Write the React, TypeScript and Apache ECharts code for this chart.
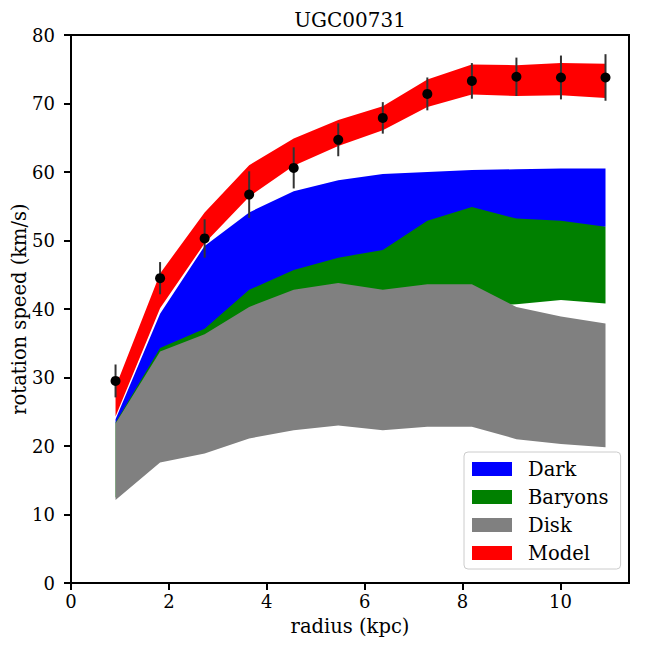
import React, { useEffect, useRef } from 'react';
import * as echarts from 'echarts';

// radius (kpc)
const X = [0.91, 1.82, 2.73, 3.64, 4.55, 5.46, 6.37, 7.28, 8.19, 9.10, 10.01, 10.92];
// observed rotation speed and error (km/s)
const V_OBS = [29.5, 44.5, 50.3, 56.7, 60.6, 64.7, 67.9, 71.4, 73.3, 73.9, 73.8, 73.8];
const V_ERR = [2.4, 2.35, 2.8, 3.4, 3.0, 2.4, 2.3, 2.4, 2.6, 2.8, 3.2, 3.4];
// bands
const DARK_HI = [23.9, 39.3, 49.2, 54.1, 57.2, 58.8, 59.7, 60.0, 60.3, 60.4, 60.5, 60.5];
const DARK_LO = [23.3, 33.5, 36.0, 41.0, 44.0, 46.0, 47.8, 49.4, 50.6, 51.2, 51.7, 52.0];
const BARY_HI = [23.4, 34.3, 37.1, 42.8, 45.7, 47.5, 48.6, 52.9, 54.9, 53.2, 52.9, 52.0];
const BARY_LO = [12.5, 17.9, 19.2, 25.3, 27.7, 29.6, 31.4, 37.9, 40.3, 40.7, 41.3, 40.8];
const DISK_HI = [23.3, 33.8, 36.3, 40.3, 42.8, 43.8, 42.8, 43.6, 43.6, 40.3, 38.9, 37.9];
const DISK_LO = [12.1, 17.6, 18.9, 21.1, 22.3, 23.0, 22.3, 22.8, 22.8, 21.0, 20.3, 19.8];
const MODEL_HI = [28.6, 45.2, 54.1, 61.0, 64.9, 67.6, 69.6, 73.5, 75.7, 75.6, 75.9, 75.8];
const MODEL_LO = [24.3, 40.1, 49.6, 56.4, 60.9, 63.8, 66.1, 69.5, 71.3, 71.1, 71.2, 70.8];

const X_TICKS = [0, 2, 4, 6, 8, 10];
const Y_TICKS = [0, 10, 20, 30, 40, 50, 60, 70, 80];
const LEGEND = ['Dark', 'Baryons', 'Disk', 'Model'];
const TITLE = 'UGC00731';

const FONT = 'DejaVu Serif';

function band(name: string, color: string, lo: number[], hi: number[], z: number) {
  const data = X.map((x, i) => [x, lo[i], hi[i]]);
  return {
    type: 'custom',
    name,
    z,
    itemStyle: { color },
    data,
    encode: { x: 0, y: [1, 2] },
    renderItem: (params: any, api: any) => {
      if (params.dataIndex !== 0) return null;
      const top = data.map((d) => api.coord([d[0], d[2]]));
      const bot = data.map((d) => api.coord([d[0], d[1]])).reverse();
      return {
        type: 'polygon',
        shape: { points: top.concat(bot) },
        style: { fill: color },
      };
    },
  };
}

export default function App() {
  const ref = useRef<HTMLDivElement>(null);
  useEffect(() => {
    const chart = echarts.init(ref.current!, null, { renderer: 'svg' });
    const errData = X.map((x, i) => [x, V_OBS[i], V_ERR[i]]);
    const option: any = {
      animation: false,
      backgroundColor: '#fff',
      title: {
        text: TITLE,
        left: 350,
        textAlign: 'center',
        top: 10,
        padding: 0,
        textStyle: { fontFamily: FONT, fontSize: 20, fontWeight: 'normal', color: '#000' },
      },
      grid: {
        left: 71,
        right: 19,
        top: 35,
        bottom: 65,
        outerBoundsMode: 'none',
        containLabel: false,
        show: true,
        borderColor: '#000',
        borderWidth: 2,
        backgroundColor: 'transparent',
      },
      legend: {
        data: LEGEND,
        orient: 'vertical',
        left: 464,
        top: 452,
        icon: 'rect',
        itemWidth: 40,
        itemHeight: 14,
        itemGap: 8,
        padding: [7, 12, 6, 8],
        backgroundColor: 'rgba(255,255,255,0.8)',
        borderColor: '#cccccc',
        borderWidth: 1,
        borderRadius: 4,
        textStyle: {
          fontFamily: FONT,
          fontSize: 19.5,
          color: '#000',
          padding: [0, 0, 0, 11],
        },
      },
      xAxis: {
        type: 'value',
        min: 0,
        max: 11.4,
        name: 'radius (kpc)',
        nameLocation: 'middle',
        nameGap: 33,
        nameMoveOverlap: false,
        nameTextStyle: { fontFamily: FONT, fontSize: 19.5, color: '#000' },
        axisLine: { onZero: false, lineStyle: { color: '#000', width: 2 } },
        axisTick: { customValues: X_TICKS, length: 7, lineStyle: { color: '#000', width: 2 } },
        axisLabel: { customValues: X_TICKS, fontFamily: FONT, fontSize: 18, color: '#000', margin: 9 },
        splitLine: { show: false },
      },
      yAxis: {
        type: 'value',
        min: 0,
        max: 80,
        interval: 10,
        name: 'rotation speed (km/s)',
        nameLocation: 'middle',
        nameGap: 42,
        nameMoveOverlap: false,
        nameTextStyle: { fontFamily: FONT, fontSize: 19.5, color: '#000' },
        axisLine: { onZero: false, lineStyle: { color: '#000', width: 2 } },
        axisTick: { customValues: Y_TICKS, length: 7, lineStyle: { color: '#000', width: 2 } },
        axisLabel: { customValues: Y_TICKS, fontFamily: FONT, fontSize: 18, color: '#000', margin: 16 },
        splitLine: { show: false },
      },
      series: [
        band('Dark', '#0000ff', DARK_LO, DARK_HI, 1),
        band('Baryons', '#008000', BARY_LO, BARY_HI, 2),
        band('Disk', '#808080', DISK_LO, DISK_HI, 3),
        band('Model', '#ff0000', MODEL_LO, MODEL_HI, 4),
        {
          type: 'custom',
          name: 'errors',
          z: 5,
          data: errData,
          encode: { x: 0, y: 1 },
          renderItem: (params: any, api: any) => {
            const x = api.value(0);
            const v = api.value(1);
            const e = api.value(2);
            const p1 = api.coord([x, v - e]);
            const p2 = api.coord([x, v + e]);
            return {
              type: 'line',
              shape: { x1: p1[0], y1: p1[1], x2: p2[0], y2: p2[1] },
              style: { stroke: '#333333', lineWidth: 2 },
            };
          },
        },
        {
          type: 'scatter',
          name: 'data',
          z: 6,
          symbol: 'circle',
          symbolSize: 10,
          itemStyle: { color: '#000', opacity: 1 },
          data: X.map((x, i) => [x, V_OBS[i]]),
        },
      ],
    };
    chart.setOption(option);
    return () => chart.dispose();
  }, []);
  return (
    <div
      ref={ref}
      style={{ position: 'fixed', left: 0, top: 0, width: 648, height: 648, background: '#fff' }}
    />
  );
}
